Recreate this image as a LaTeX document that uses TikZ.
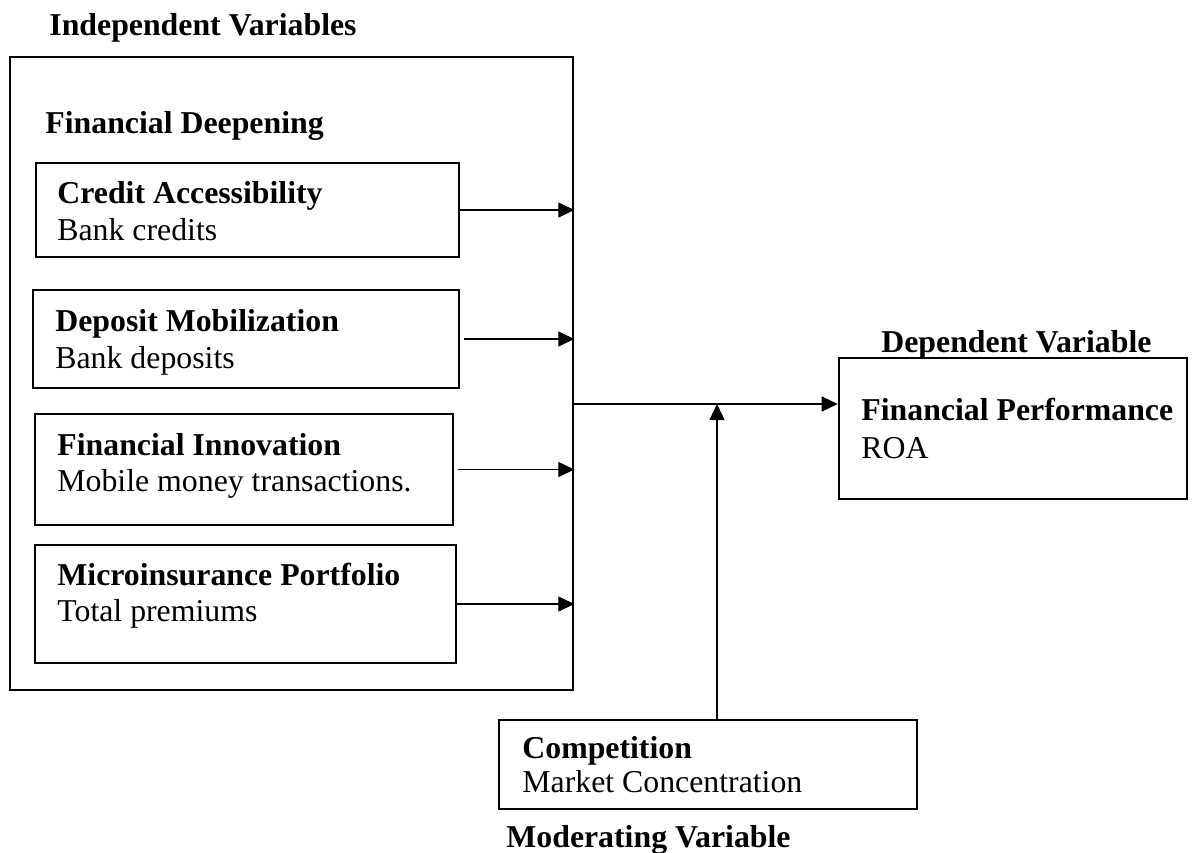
\documentclass[tikz,border=0pt]{standalone}
\usepackage{fontspec}
\setmainfont{Liberation Serif}
\usetikzlibrary{arrows.meta,fit}
\begin{document}
\begin{tikzpicture}[x=0.5pt,y=-0.5pt,
  frame/.style={draw=black, line width=1.3pt, rectangle, inner sep=0pt},
  txt/.style={inner sep=0pt, anchor=base west, font=\fontsize{15.9}{18}\selectfont},
  hd/.style={inner sep=0pt, anchor=base west, font=\fontsize{15.9}{18}\selectfont\bfseries},
  conn/.style={line width=0.65pt, -{Triangle[length=8pt,width=7.5pt]}}]
\useasboundingbox (0,0) rectangle (1197,852);

% boxes
\node[frame, fit={(10,57) (573,690)}] (outer) {};
\node[frame, fit={(36,163) (459,257)}] (b1) {};
\node[frame, fit={(33,290) (459,388)}] (b2) {};
\node[frame, fit={(35,414) (453,525)}] (b3) {};
\node[frame, fit={(35,545) (456,663)}] (b4) {};
\node[frame, fit={(839,358) (1187,499)}] (dep) {};
\node[frame, fit={(499,720) (917,809)}] (comp) {};

% titles
\node[hd] (tInd) at (49,35) {Independent Variables};
\node[hd] (tFD) at (45,133) {Financial Deepening};
\node[hd] (tDep) at (881,352) {Dependent Variable};
\node[hd] (tMod) at (506,847) {Moderating Variable};

% box texts
\node[hd] (h1) at (57,203) {Credit Accessibility};
\node[txt] (s1) at (57,240) {Bank credits};
\node[hd] (h2) at (55,331) {Deposit Mobilization};
\node[txt] (s2) at (55,368) {Bank deposits};
\node[hd] (h3) at (57,455) {Financial Innovation};
\node[txt] (s3) at (57,491) {Mobile money transactions.};
\node[hd] (h4) at (57,585) {Microinsurance Portfolio};
\node[txt] (s4) at (57,621) {Total premiums};
\node[hd] (h5) at (861,420) {Financial Performance};
\node[txt] (s5) at (861,458) {ROA};
\node[hd] (h6) at (522,758) {Competition};
\node[txt] (s6) at (522,792) {Market Concentration};

% connectors
\draw[conn] (b1.east) -- (b1.east -| outer.east);
\draw[conn] ([xshift=2pt]b2.east) -- (b2.east -| outer.east);
\draw[conn] ([xshift=2pt]b3.east) -- (b3.east -| outer.east);
\draw[conn] (b4.east) -- (b4.east -| outer.east);

\coordinate (m) at (573,404);
\coordinate (u) at (717,720);
\draw[conn] (m) -- (m -| dep.west);
\draw[conn] (u) -- (u |- m);
\end{tikzpicture}
\end{document}
